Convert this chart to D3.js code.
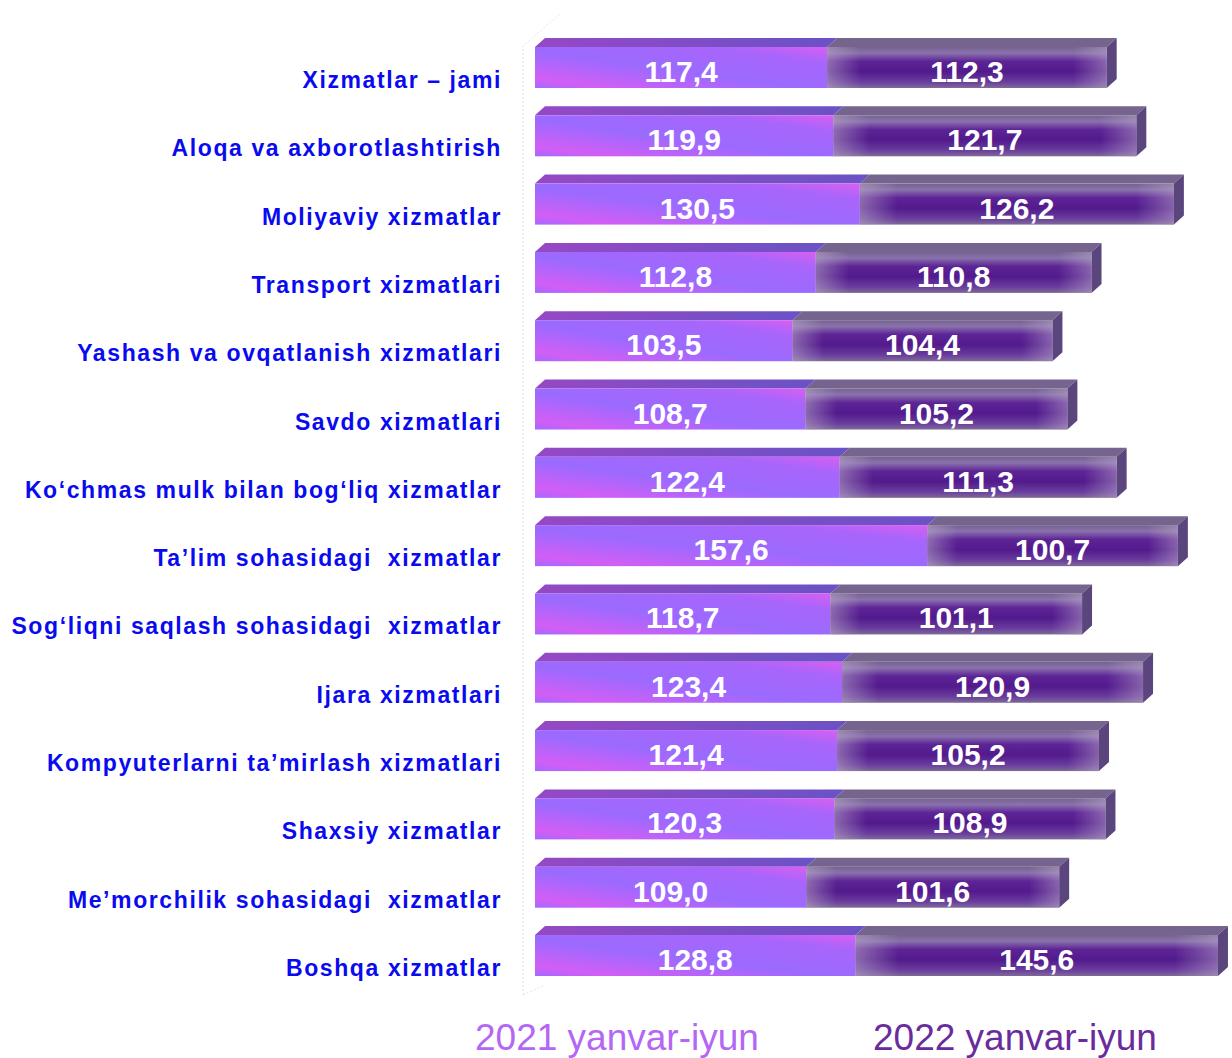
<!DOCTYPE html>
<html>
<head>
<meta charset="utf-8">
<script src="https://cdn.jsdelivr.net/npm/d3@7"></script>
<style>
  body { margin: 0; background: #fff; }
  text { font-family: "Liberation Sans", Arial, sans-serif; }
</style>
</head>
<body>
<div id="chart"></div>
<script>
// xizmatlar o'sish sur'atlari, 2021 va 2022 yanvar-iyun
const categories = [
  "Xizmatlar – jami",
  "Aloqa va axborotlashtirish",
  "Moliyaviy xizmatlar",
  "Transport xizmatlari",
  "Yashash va ovqatlanish xizmatlari",
  "Savdo xizmatlari",
  "Ko‘chmas mulk bilan bog‘liq xizmatlar",
  "Ta’lim sohasidagi  xizmatlar",
  "Sog‘liqni saqlash sohasidagi  xizmatlar",
  "Ijara xizmatlari",
  "Kompyuterlarni ta’mirlash xizmatlari",
  "Shaxsiy xizmatlar",
  "Me’morchilik sohasidagi  xizmatlar",
  "Boshqa xizmatlar"
];
const values2021 = [117.4, 119.9, 130.5, 112.8, 103.5, 108.7, 122.4, 157.6, 118.7, 123.4, 121.4, 120.3, 109.0, 128.8];
const values2022 = [112.3, 121.7, 126.2, 110.8, 104.4, 105.2, 111.3, 100.7, 101.1, 120.9, 105.2, 108.9, 101.6, 145.6];
const seriesNames = ["2021 yanvar-iyun", "2022 yanvar-iyun"];

const W = 1232, H = 1058;
const x0 = 535;
const depthX = 10, depthY = 9;

const svg = d3.select("#chart").append("svg")
    .attr("width", W).attr("height", H);

const defs = svg.append("defs");

// left segment (2021) - pink/violet diagonal
const g1 = defs.append("linearGradient").attr("id", "front1")
    .attr("x1", "0").attr("y1", "1").attr("x2", "1").attr("y2", "0");
g1.append("stop").attr("offset", "0").attr("stop-color", "#a668ff");
g1.append("stop").attr("offset", "0.12").attr("stop-color", "#d25ef5");
g1.append("stop").attr("offset", "0.45").attr("stop-color", "#9b6aff");
g1.append("stop").attr("offset", "0.8").attr("stop-color", "#a865fb");
g1.append("stop").attr("offset", "1").attr("stop-color", "#d85ff2");

const t1 = defs.append("linearGradient").attr("id", "top1")
    .attr("x1", "0").attr("y1", "0").attr("x2", "1").attr("y2", "0");
t1.append("stop").attr("offset", "0").attr("stop-color", "#9648c4");
t1.append("stop").attr("offset", "1").attr("stop-color", "#6a52c6");

// right segment (2022) - dark purple with greyish rims
const g2 = defs.append("linearGradient").attr("id", "front2")
    .attr("x1", "0").attr("y1", "0").attr("x2", "0").attr("y2", "1");
g2.append("stop").attr("offset", "0").attr("stop-color", "#75628e");
g2.append("stop").attr("offset", "0.15").attr("stop-color", "#8a72ad");
g2.append("stop").attr("offset", "0.35").attr("stop-color", "#5d2496");
g2.append("stop").attr("offset", "0.6").attr("stop-color", "#521a8c");
g2.append("stop").attr("offset", "0.85").attr("stop-color", "#6a3c9e");
g2.append("stop").attr("offset", "1").attr("stop-color", "#7e6a98");

const s2 = defs.append("linearGradient").attr("id", "sheen2")
    .attr("x1", "0").attr("y1", "0").attr("x2", "1").attr("y2", "0");
s2.append("stop").attr("offset", "0").attr("stop-color", "#b8a8c8").attr("stop-opacity", 0.55);
s2.append("stop").attr("offset", "0.12").attr("stop-color", "#b8a8c8").attr("stop-opacity", 0);
s2.append("stop").attr("offset", "0.88").attr("stop-color", "#b8a8c8").attr("stop-opacity", 0);
s2.append("stop").attr("offset", "1").attr("stop-color", "#b8a8c8").attr("stop-opacity", 0.5);

const x = d3.scaleLinear().domain([0, 270]).range([0, 672]);
const y = d3.scaleBand().domain(categories).range([47, 976]).paddingInner(0.4).paddingOuter(0);
const bh = y.bandwidth();

// faint back wall
svg.append("path")
    .attr("d", `M523,995 L523,46 L560,14 M523,995 L545,985`)
    .attr("fill", "none").attr("stroke", "#e4e4e4").attr("stroke-width", 1)
    .attr("stroke-dasharray", "2,2");

const rows = categories.map((c, i) => ({ cat: c, a: values2021[i], b: values2022[i] }));

const row = svg.selectAll(".row").data(rows).enter().append("g").attr("class", "row");

row.each(function(d) {
  const g = d3.select(this);
  const top = y(d.cat);
  const xa = x0, wa = x(d.a);
  const xb = xa + wa, wb = x(d.b);

  // top faces
  g.append("path")
    .attr("d", `M${xa},${top} L${xa + depthX},${top - depthY} L${xb + depthX},${top - depthY} L${xb},${top} Z`)
    .attr("fill", "url(#top1)");
  g.append("path")
    .attr("d", `M${xb},${top} L${xb + depthX},${top - depthY} L${xb + wb + depthX},${top - depthY} L${xb + wb},${top} Z`)
    .attr("fill", "#74648e");
  // end cap
  g.append("path")
    .attr("d", `M${xb + wb},${top} L${xb + wb + depthX},${top - depthY} L${xb + wb + depthX},${top + bh - depthY} L${xb + wb},${top + bh} Z`)
    .attr("fill", "#5a467c");

  // front faces
  g.append("rect").attr("x", xa).attr("y", top).attr("width", wa).attr("height", bh)
    .attr("fill", "url(#front1)");
  g.append("rect").attr("x", xb).attr("y", top).attr("width", wb).attr("height", bh)
    .attr("fill", "url(#front2)");
  g.append("rect").attr("x", xb).attr("y", top).attr("width", wb).attr("height", bh)
    .attr("fill", "url(#sheen2)");

  // values
  g.append("text").attr("x", xa + wa / 2).attr("y", top + 35)
    .attr("text-anchor", "middle").attr("fill", "#fff")
    .style("font-size", "30px").style("font-weight", "bold")
    .text(d3.format(".1f")(d.a).replace(".", ","));
  g.append("text").attr("x", xb + wb / 2).attr("y", top + 35)
    .attr("text-anchor", "middle").attr("fill", "#fff")
    .style("font-size", "30px").style("font-weight", "bold")
    .text(d3.format(".1f")(d.b).replace(".", ","));

  // category label
  g.append("text").attr("x", 502).attr("y", top + 41)
    .attr("text-anchor", "end").attr("fill", "#0a0af0")
    .style("font-size", "23px").style("font-weight", "bold")
    .style("letter-spacing", "1.6px")
    .style("white-space", "pre")
    .text(d.cat);
});

// legend
const legendX = [475, 873];
const legendColors = ["#b466f4", "#6a2c9c"];
svg.selectAll(".legend").data(seriesNames).enter().append("text")
    .attr("class", "legend")
    .attr("x", (d, i) => legendX[i]).attr("y", 1050)
    .attr("fill", (d, i) => legendColors[i])
    .style("font-size", "37px")
    .style("letter-spacing", "0px")
    .text(d => d);
</script>
</body>
</html>
